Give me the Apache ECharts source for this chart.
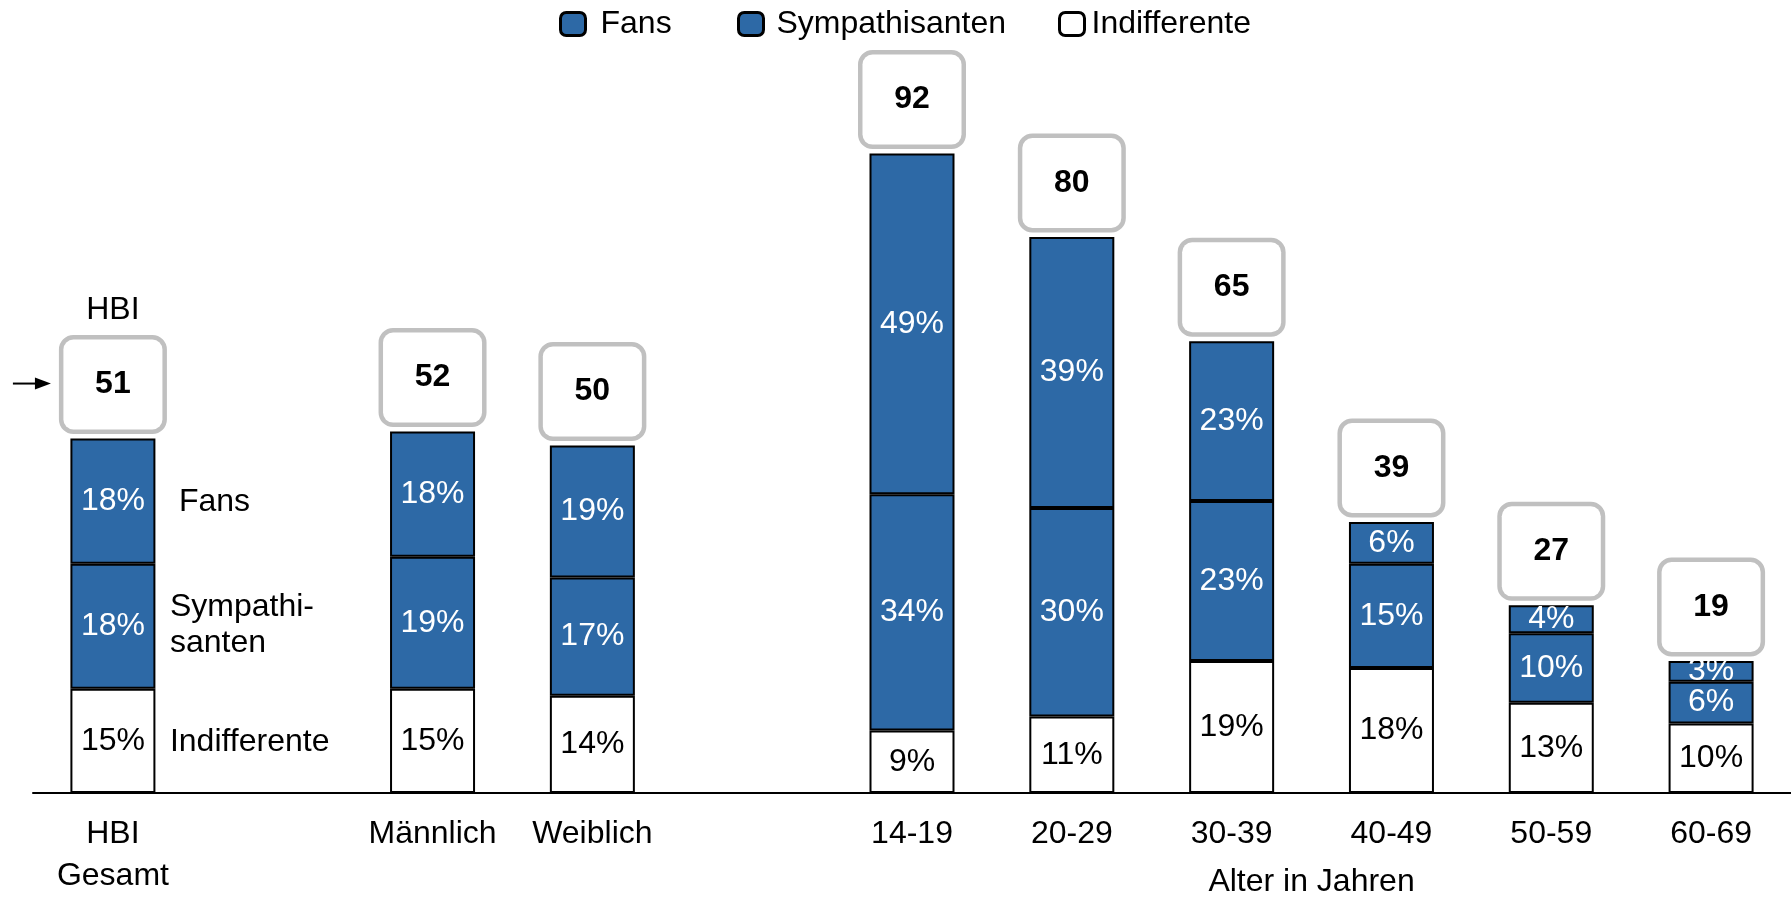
<!DOCTYPE html>
<html>
<head>
<meta charset="utf-8">
<script src="https://cdn.jsdelivr.net/npm/echarts@6/dist/echarts.min.js"></script>
<style>
html,body{margin:0;padding:0;background:#fff;}
#chart{width:1791px;height:897px;}
</style>
</head>
<body>
<div id="chart"></div>
<script>
const categories = ['HBI\nGesamt', '', 'Männlich', 'Weiblich', '', '14-19', '20-29', '30-39', '40-49', '50-59', '60-69'];
const indifferente = [15, null, 15, 14, null, 9, 11, 19, 18, 13, 10];
const sympathisanten = [18, null, 19, 17, null, 34, 30, 23, 15, 10, 6];
const fans = [18, null, 18, 19, null, 49, 39, 23, 6, 4, 3];
const hbi = [51, null, 52, 50, null, 92, 80, 65, 39, 27, 19];
const ageCats = ['14-19', '60-69'];

const FONT = "'Liberation Sans', Arial, Helvetica, sans-serif";
const FS = 32;
const BLUE = '#2D69A6';
const fix = a => a.map(v => v == null ? '-' : v);

const chart = echarts.init(document.getElementById('chart'), null, {renderer: 'canvas'});

function barSeries(name, data, color, labelColor) {
  return {
    name: name,
    type: 'bar',
    stack: 'total',
    data: fix(data),
    barWidth: 85,
    itemStyle: {color: color, borderColor: '#000', borderWidth: 2},
    label: {
      show: true, position: 'inside', formatter: '{c}%',
      color: labelColor, fontFamily: FONT, fontSize: FS
    },
    emphasis: {disabled: true},
    z: 2
  };
}

const legendBase = {
  top: 8, padding: 0, itemWidth: 25, itemHeight: 23, icon: 'roundRect',
  itemStyle: {borderColor: '#000', borderWidth: 3},
  selectedMode: false
};
const legText = pad => ({fontFamily: FONT, fontSize: FS, color: '#000', padding: [0, 0, 0, pad]});

chart.setOption({
  animation: false,
  backgroundColor: '#fff',
  legend: [
    Object.assign({}, legendBase, {left: 559, data: ['Fans'], textStyle: legText(10)}),
    Object.assign({}, legendBase, {left: 737, data: ['Sympathisanten'], textStyle: legText(8)}),
    Object.assign({}, legendBase, {left: 1058, data: ['Indifferente'], textStyle: legText(2)})
  ],
  grid: {left: 33, width: 1763, top: 98, height: 700, containLabel: false},
  xAxis: {
    type: 'category',
    data: categories,
    axisLine: {lineStyle: {color: '#000', width: 2}},
    axisTick: {show: false},
    axisLabel: {
      interval: 0, color: '#000', fontFamily: FONT, fontSize: FS,
      lineHeight: 42, margin: 20
    },
    splitLine: {show: false}
  },
  yAxis: {
    type: 'value', min: 0, max: 100, show: false,
    splitLine: {show: false}
  },
  series: [
    barSeries('Indifferente', indifferente, '#FFFFFF', '#000'),
    barSeries('Sympathisanten', sympathisanten, BLUE, '#fff'),
    barSeries('Fans', fans, BLUE, '#fff'),
    {
      name: 'HBI',
      type: 'scatter',
      data: fix(hbi),
      symbolSize: 0,
      silent: true,
      itemStyle: {opacity: 1},
      emphasis: {disabled: true},
      label: {
        show: true, position: 'top', distance: 9,
        formatter: p => '{b|' + p.value + '}',
        rich: {
          b: {
            fontFamily: FONT, fontSize: 32, fontWeight: 'bold', color: '#000',
            backgroundColor: '#fff', borderColor: '#C0C0C0', borderWidth: 4.5,
            borderRadius: 10, width: 99, height: 90, lineHeight: 90,
            align: 'center', verticalAlign: 'middle'
          }
        }
      },
      z: 5
    }
  ]
});

// annotations positioned from the chart's own scales
const px = (cat, v) => chart.convertToPixel({xAxisIndex: 0, yAxisIndex: 0}, [cat, v]);
const g0 = px(0, 0);
const xc = g0[0];
const base = g0[1];
const segMid = (lo, hi) => px(0, (lo + hi) / 2)[1];
const i0 = indifferente[0], s0 = sympathisanten[0], f0 = fans[0];
const topY = px(0, hbi[0])[1];
const boxMid = topY - 55;
const ageL = px(categories.indexOf(ageCats[0]), 0)[0];
const ageR = px(categories.indexOf(ageCats[1]), 0)[0];
const txt = (x, y, s, align) => ({
  type: 'text', x: x, y: y,
  style: {text: s, fill: '#000', font: FS + 'px ' + FONT, align: align || 'left', verticalAlign: 'middle', lineHeight: 36}
});

chart.setOption({
  graphic: [
    txt(xc + 66, segMid(i0 + s0, i0 + s0 + f0) + 1, 'Fans'),
    txt(xc + 57, segMid(i0, i0 + s0) - 1, 'Sympathi-\nsanten'),
    txt(xc + 57, segMid(0, i0) + 1, 'Indifferente'),
    txt(xc, boxMid - 73, 'HBI', 'center'),
    {
      type: 'line',
      shape: {x1: xc - 100, y1: boxMid, x2: xc - 70, y2: boxMid},
      style: {stroke: '#000', lineWidth: 2}
    },
    {
      type: 'polygon',
      shape: {points: [[xc - 78, boxMid - 6], [xc - 62, boxMid], [xc - 78, boxMid + 6]]},
      style: {fill: '#000'}
    },
    txt((ageL + ageR) / 2, base + 89, 'Alter in Jahren', 'center')
  ]
});
</script>
</body>
</html>
